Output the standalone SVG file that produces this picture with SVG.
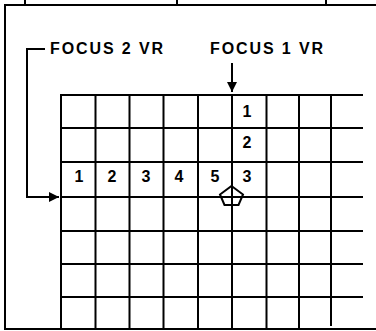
<svg xmlns="http://www.w3.org/2000/svg" width="376" height="331" viewBox="0 0 376 331">
<style>
.ln{stroke:#000;stroke-width:2;fill:none}
.lbl{font-family:"Liberation Sans",Arial,sans-serif;font-weight:bold;font-size:16px;fill:#000}
.num{font-family:"Liberation Sans",Arial,sans-serif;font-weight:bold;font-size:16px;fill:#000;text-anchor:middle}
</style>
<defs>
<marker id="ah" markerWidth="10" markerHeight="10" refX="10" refY="5" orient="auto" markerUnits="userSpaceOnUse">
<path d="M0,0 L10,5 L0,10 Z" fill="#000"/>
</marker>
</defs>
<rect width="376" height="331" fill="#fff"/>
<g id="frame" class="ln">
<path d="M4,5 H376 M25,0 V5 M177,0 V5 M326,0 V5 M5,5 V330 M4,329 H376"/>
</g>
<g id="grid" class="ln">
<path d="M61,95 V328 M95.5,95 V328 M129.5,95 V328 M163.5,95 V328 M198,95 V328 M232,95 V328 M266.5,95 V328 M299,95 V328 M331,95 V326"/>
<path d="M60,95 H363 M60,128 H363 M60,162 H363 M60,197 H363 M60,231 H363 M60,264 H363 M60,297 H363"/>
</g>
<g id="marker-pentagon">
<polygon class="ln" points="231.5,186 243,194.5 238.5,205 224.5,205 220,194.5"/>
</g>
<g id="focus2-label"><text class="lbl" x="50" y="54" textLength="113" lengthAdjust="spacing">FOCUS 2 VR</text></g>
<g id="focus1-label"><text class="lbl" x="210" y="54" textLength="113" lengthAdjust="spacing">FOCUS 1 VR</text></g>
<g id="numbers">
<text class="num" x="79" y="182">1</text>
<text class="num" x="112" y="182">2</text>
<text class="num" x="146" y="182">3</text>
<text class="num" x="179" y="182">4</text>
<text class="num" x="215" y="182">5</text>
<text class="num" x="247" y="182">3</text>
<text class="num" x="247" y="148">2</text>
<text class="num" x="247" y="117">1</text>
</g>
<g id="connectors" class="ln">
<path d="M232,63 V92" marker-end="url(#ah)"/>
<path d="M45,49 H27 V197 H59" marker-end="url(#ah)"/>
</g>
</svg>
